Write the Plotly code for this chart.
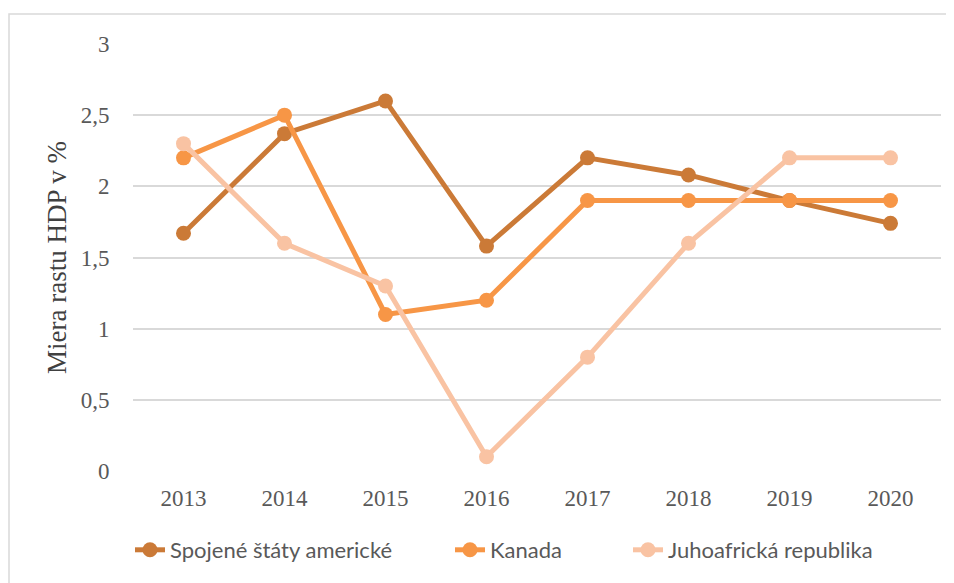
import plotly.graph_objects as go

years = ["2013", "2014", "2015", "2016", "2017", "2018", "2019", "2020"]
usa = [1.67, 2.37, 2.6, 1.58, 2.2, 2.08, 1.9, 1.74]
kanada = [2.2, 2.5, 1.1, 1.2, 1.9, 1.9, 1.9, 1.9]
jar = [2.3, 1.6, 1.3, 0.1, 0.8, 1.6, 2.2, 2.2]

names = ["Spojené štáty americké", "Kanada", "Juhoafrická republika"]
colors = ["#CB7A37", "#F79646", "#F9C3A3"]
y_ticks = [0, 0.5, 1, 1.5, 2, 2.5, 3]

# page body has an 8px margin; figure coords = reference coords - 8
OFF = 8
W, H = 954, 583
L = 133 - OFF
T = 44 - OFF
plot_right = 941 - OFF
plot_bottom = 471 - OFF
R = W - plot_right
B = H - plot_bottom
pw, ph = plot_right - L, plot_bottom - T

legend_ids = ["legend", "legend2", "legend3"]
legend_text_x = [170, 490, 668]  # reference x where each legend label starts

fig = go.Figure()
for name, vals, col, lid in zip(names, [usa, kanada, jar], colors, legend_ids):
    fig.add_trace(go.Scatter(
        x=years, y=vals, name=name, mode="lines+markers",
        line=dict(color=col, width=5),
        marker=dict(color=col, size=15),
        legend=lid,
    ))

leg_y = (plot_bottom - (550 - OFF)) / ph
legend_layout = {}
for lid, tx in zip(legend_ids, legend_text_x):
    legend_layout[lid] = dict(
        orientation="h", x=(tx - 40 - OFF - L) / pw, xanchor="left",
        y=leg_y, yanchor="middle",
        font=dict(family="Lato", size=22, color="#595959"),
        itemwidth=30, bgcolor="rgba(0,0,0,0)",
    )

fig.update_layout(
    width=W, height=H,
    margin=dict(l=L, r=R, t=T, b=B),
    paper_bgcolor="white", plot_bgcolor="white",
    separators=", ",
    showlegend=True,
    **legend_layout,
    xaxis=dict(
        type="category", range=[-0.5, 7.5],
        showgrid=False, showline=False, zeroline=False,
        tickfont=dict(family="Liberation Serif", size=23, color="#595959"),
        ticks="outside", ticklen=6, tickcolor="rgba(0,0,0,0)",
    ),
    yaxis=dict(
        range=[0, 3], tickvals=y_ticks,
        showgrid=True, gridcolor="#D9D9D9", gridwidth=1.5,
        zeroline=False, showline=False,
        tickfont=dict(family="Liberation Serif", size=23, color="#595959"),
        ticks="outside", ticklen=18, tickcolor="rgba(0,0,0,0)",
        title=dict(text="Miera rastu HDP v %",
                   font=dict(family="Liberation Serif", size=27, color="#404040"),
                   standoff=6),
    ),
    shapes=[dict(
        type="rect", xref="paper", yref="paper",
        x0=(9 - OFF - L) / pw, x1=(W + 20 - L) / pw,
        y0=(plot_bottom - (H + 20)) / ph, y1=(plot_bottom - (14 - OFF)) / ph,
        line=dict(color="#D9D9D9", width=1.5), fillcolor="rgba(0,0,0,0)",
        layer="below",
    )],
)

fig.write_html("out.html")
